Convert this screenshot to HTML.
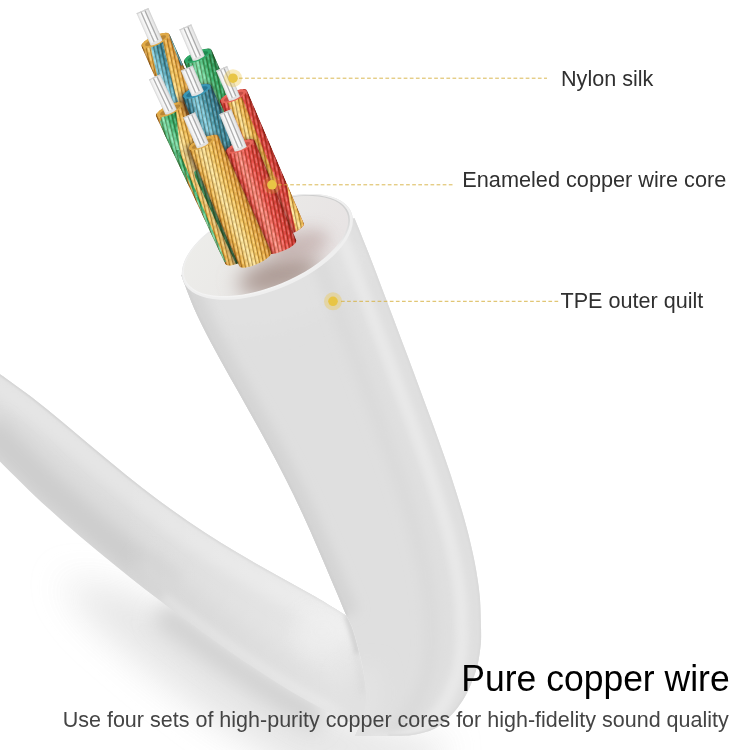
<!DOCTYPE html>
<html lang="en"><head><meta charset="utf-8"><title>Pure copper wire</title>
<style>
html,body{margin:0;padding:0;background:#fff}
body{width:750px;height:750px;overflow:hidden;position:relative;font-family:"Liberation Sans",Arial,sans-serif}
svg{position:absolute;left:0;top:0;display:block}
.lbl{position:absolute;white-space:nowrap;color:#303030;font-size:21.6px;line-height:1;transform:scaleY(1.035);transform-origin:0 84.65%}
</style></head><body>
<svg width="750" height="750" viewBox="0 0 750 750">
<defs>
<filter id="b1" filterUnits="userSpaceOnUse" x="-100" y="-100" width="950" height="950"><feGaussianBlur stdDeviation="1"/></filter>
<filter id="b2" filterUnits="userSpaceOnUse" x="-100" y="-100" width="950" height="950"><feGaussianBlur stdDeviation="2"/></filter>
<filter id="b3" filterUnits="userSpaceOnUse" x="-100" y="-100" width="950" height="950"><feGaussianBlur stdDeviation="3"/></filter>
<filter id="b6" filterUnits="userSpaceOnUse" x="-100" y="-100" width="950" height="950"><feGaussianBlur stdDeviation="6"/></filter>
<filter id="b8" filterUnits="userSpaceOnUse" x="-100" y="-100" width="950" height="950"><feGaussianBlur stdDeviation="8"/></filter>
<filter id="b10" filterUnits="userSpaceOnUse" x="-100" y="-100" width="950" height="950"><feGaussianBlur stdDeviation="10"/></filter>
<filter id="b18" filterUnits="userSpaceOnUse" x="-100" y="-100" width="950" height="950"><feGaussianBlur stdDeviation="18"/></filter>

<clipPath id="lowClip"><path d="M-20.0,360.5 C-16.7,362.8 -8.6,368.1 0.0,374.2 C8.6,380.2 21.0,389.0 31.5,397.0 C42.0,405.1 52.5,413.9 63.0,422.6 C73.5,431.2 84.0,440.3 94.5,449.0 C105.0,457.7 115.5,466.5 126.0,474.9 C136.5,483.3 147.0,491.6 157.5,499.4 C168.0,507.3 178.5,514.8 189.0,522.0 C199.5,529.2 210.0,536.0 220.5,542.5 C231.0,549.1 241.5,555.2 252.0,561.3 C262.5,567.3 273.0,573.0 283.5,578.9 C294.0,584.8 304.5,590.4 315.0,596.6 C325.5,602.7 341.2,612.6 346.5,615.8 C347.6,618.2 350.8,623.6 353.0,630.0 C355.2,636.4 357.7,646.0 359.6,654.0 C361.5,662.0 363.4,670.3 364.5,678.0 C365.6,685.7 366.4,693.0 366.0,700.0 C365.6,707.0 363.8,714.0 362.0,720.0 C360.2,726.0 356.2,733.3 355.0,736.0 L388.0,735.7 C382.6,733.9 366.4,728.9 355.7,724.5 C344.9,720.2 334.1,715.0 323.3,709.5 C312.6,703.9 301.8,697.8 291.0,691.4 C280.2,685.0 269.4,678.1 258.7,671.1 C247.9,664.1 237.1,656.7 226.3,649.2 C215.6,641.7 204.8,633.9 194.0,626.0 C183.2,618.1 172.4,610.0 161.7,601.8 C150.9,593.6 140.1,585.2 129.3,576.7 C118.6,568.1 107.8,559.4 97.0,550.5 C86.2,541.5 75.4,532.4 64.7,522.9 C53.9,513.3 43.1,503.6 32.3,493.4 C21.6,483.1 8.7,470.0 0.0,461.4 C-8.7,452.8 -16.7,445.2 -20.0,442.0 Z"/></clipPath>
<clipPath id="upClip"><path d="M181.2,275.0 C183.4,280.7 189.4,297.7 194.4,309.1 C199.4,320.4 205.3,331.8 211.2,343.1 C217.2,354.5 223.6,365.8 229.9,377.1 C236.3,388.5 242.9,399.8 249.2,411.2 C255.5,422.6 261.9,433.9 268.0,445.2 C274.1,456.6 280.1,467.9 285.8,479.3 C291.5,490.6 297.0,502.0 302.3,513.3 C307.5,524.7 312.6,536.0 317.5,547.4 C322.5,558.8 327.2,570.0 332.0,581.5 C336.9,592.9 344.1,610.1 346.5,615.8 C347.6,618.2 350.8,623.6 353.0,630.0 C355.2,636.4 357.7,646.0 359.6,654.0 C361.5,662.0 363.4,670.3 364.5,678.0 C365.6,685.7 366.4,693.0 366.0,700.0 C365.6,707.0 363.8,714.0 362.0,720.0 C360.2,726.0 356.2,733.3 355.0,736.0 L388.0,735.7 C392.0,735.6 404.3,736.2 412.0,735.0 C419.7,733.8 428.0,732.0 434.4,728.8 C440.8,725.6 445.6,720.8 450.4,716.0 C455.2,711.2 459.6,705.3 463.0,700.0 C466.4,694.7 468.6,689.9 471.0,684.0 C473.4,678.1 476.0,671.5 477.6,664.8 C479.2,658.1 480.2,649.8 480.8,644.0 C481.4,638.2 481.0,632.3 481.1,630.0 C480.8,624.3 480.8,607.1 479.7,595.7 C478.6,584.2 476.7,572.8 474.5,561.3 C472.3,549.9 469.5,538.4 466.5,527.0 C463.5,515.6 460.0,504.1 456.4,492.7 C452.9,481.2 449.0,469.8 445.0,458.3 C441.1,446.9 436.9,435.4 432.8,424.0 C428.6,412.6 424.4,401.1 420.1,389.7 C415.9,378.2 411.6,366.8 407.3,355.3 C403.0,343.9 398.7,332.4 394.4,321.0 C390.1,309.6 385.8,298.1 381.4,286.7 C377.1,275.2 372.7,263.8 368.2,252.3 C363.7,240.9 356.8,223.7 354.5,218.0 L266.6,246.2 Z"/><ellipse cx="267.4" cy="246.9" rx="90.8" ry="43.2" transform="rotate(-22.5 267.4 246.9)"/></clipPath>
<linearGradient id="capG" x1="0" y1="0" x2="1" y2="0.6"><stop offset="0" stop-color="#eeeeeb"/><stop offset="0.5" stop-color="#eae9e7"/><stop offset="1" stop-color="#e8e4e4"/></linearGradient>
<linearGradient id="rimG" x1="0" y1="1" x2="1" y2="0"><stop offset="0" stop-color="#f6f6f6"/><stop offset="0.5" stop-color="#eeeeee"/><stop offset="0.75" stop-color="#d2d2d2"/><stop offset="1" stop-color="#c8c8c8"/></linearGradient>
<linearGradient id="g_gold" x1="0" x2="1" y1="0" y2="0"><stop offset="0" stop-color="#c8862a"/><stop offset="0.12" stop-color="#f2b848"/><stop offset="0.36" stop-color="#ffe89a"/><stop offset="0.62" stop-color="#f8c656"/><stop offset="0.88" stop-color="#eaa43a"/><stop offset="1" stop-color="#c07e26"/></linearGradient>
<linearGradient id="g_blue" x1="0" x2="1" y1="0" y2="0"><stop offset="0" stop-color="#175a70"/><stop offset="0.12" stop-color="#2c8098"/><stop offset="0.36" stop-color="#84d6ea"/><stop offset="0.62" stop-color="#3a94aa"/><stop offset="0.88" stop-color="#2a7a92"/><stop offset="1" stop-color="#144e64"/></linearGradient>
<linearGradient id="g_green" x1="0" x2="1" y1="0" y2="0"><stop offset="0" stop-color="#127a3e"/><stop offset="0.12" stop-color="#26a45c"/><stop offset="0.36" stop-color="#80e8b0"/><stop offset="0.62" stop-color="#30b46a"/><stop offset="0.88" stop-color="#209852"/><stop offset="1" stop-color="#0e6c36"/></linearGradient>
<linearGradient id="g_red" x1="0" x2="1" y1="0" y2="0"><stop offset="0" stop-color="#b82420"/><stop offset="0.12" stop-color="#e83c36"/><stop offset="0.36" stop-color="#ff8a7c"/><stop offset="0.62" stop-color="#f04a44"/><stop offset="0.88" stop-color="#dc3832"/><stop offset="1" stop-color="#aa201c"/></linearGradient>
<linearGradient id="g_white" x1="0" x2="1" y1="0" y2="0"><stop offset="0" stop-color="#d4d4d4"/><stop offset="0.12" stop-color="#eeeeee"/><stop offset="0.36" stop-color="#ffffff"/><stop offset="0.62" stop-color="#f6f6f6"/><stop offset="0.88" stop-color="#e6e6e6"/><stop offset="1" stop-color="#cccccc"/></linearGradient>
<pattern id="strand" width="7.4" height="9" patternUnits="userSpaceOnUse" patternTransform="rotate(12)">
<rect x="0" y="0" width="0.9" height="9" fill="#3a1800" fill-opacity="0.42"/><rect x="0.9" y="0" width="0.7" height="9" fill="#3a1800" fill-opacity="0.12"/>
<rect x="3.7" y="0" width="0.9" height="9" fill="#3a1800" fill-opacity="0.42"/><rect x="4.6" y="0" width="0.7" height="9" fill="#3a1800" fill-opacity="0.12"/>
<rect x="1.9" y="0" width="1.2" height="9" fill="#fff" fill-opacity="0.12"/><rect x="5.6" y="0" width="1.2" height="9" fill="#fff" fill-opacity="0.12"/>
<rect x="1.8" y="0.5" width="1.4" height="5" rx="0.7" fill="#fff" fill-opacity="0.22"/>
<rect x="5.5" y="5" width="1.4" height="4" rx="0.7" fill="#fff" fill-opacity="0.22"/><rect x="5.5" y="0" width="1.4" height="1" fill="#fff" fill-opacity="0.22"/>
<rect x="0.9" y="6" width="2.8" height="2.4" fill="#3a1800" fill-opacity="0.07"/><rect x="4.6" y="1.5" width="2.8" height="2.4" fill="#3a1800" fill-opacity="0.07"/>
</pattern>
<pattern id="corestr" width="4" height="10" patternUnits="userSpaceOnUse"><rect x="0" y="0" width="1" height="10" fill="#000" fill-opacity="0.16"/></pattern>

<linearGradient id="lowLight" gradientUnits="userSpaceOnUse" x1="120" y1="0" x2="340" y2="0"><stop offset="0" stop-color="#fff" stop-opacity="0"/><stop offset="1" stop-color="#fff" stop-opacity="0.32"/></linearGradient>
</defs>
<g filter="url(#b18)" opacity="0.85"><path d="M60,578 L120,590 L180,612 L250,666 L300,694 L350,720 L410,738 L450,742 L430,775 L300,775 L215,722 L150,672 L92,622 Z" fill="#e2e2e2"/></g>
<g filter="url(#b10)"><path d="M159.7,611.8 C165.1,615.9 181.2,628.1 192.0,636.0 C202.8,643.9 213.6,651.7 224.3,659.2 C235.1,666.7 245.9,674.1 256.7,681.1 C267.4,688.1 278.2,695.0 289.0,701.4 C299.8,707.8 315.9,716.4 321.3,719.5" fill="none" stroke="#d0d0d0" stroke-width="26"/></g>
<g clip-path="url(#lowClip)">
<rect x="0" y="340" width="500" height="410" fill="#dcdcdc"/>
<path d="M-14.0,377.5 C-10.7,379.8 -2.6,385.1 6.0,391.2 C14.6,397.2 27.0,406.0 37.5,414.0 C48.0,422.1 58.5,430.9 69.0,439.6 C79.5,448.2 90.0,457.3 100.5,466.0 C111.0,474.7 121.5,483.5 132.0,491.9 C142.5,500.3 153.0,508.6 163.5,516.4 C174.0,524.3 184.5,531.8 195.0,539.0 C205.5,546.2 216.0,553.0 226.5,559.5 C237.0,566.1 247.5,572.2 258.0,578.3 C268.5,584.3 279.0,590.0 289.5,595.9 C300.0,601.8 310.5,607.4 321.0,613.6 C331.5,619.7 347.2,629.6 352.5,632.8" fill="none" stroke="#e5e5e5" stroke-width="24" filter="url(#b6)"/>
<path d="M-12.0,428.0 C-8.7,431.2 -0.7,438.8 8.0,447.4 C16.7,456.0 29.6,469.1 40.3,479.4 C51.1,489.6 61.9,499.3 72.7,508.9 C83.4,518.4 94.2,527.5 105.0,536.5 C115.8,545.4 126.6,554.1 137.3,562.7 C148.1,571.2 164.3,583.6 169.7,587.8" fill="none" stroke="#cdcdcd" stroke-width="30" filter="url(#b8)"/>
<path d="M137.3,562.7 C142.7,566.9 158.9,579.6 169.7,587.8 C180.4,596.0 191.2,604.1 202.0,612.0 C212.8,619.9 223.6,627.7 234.3,635.2 C245.1,642.7 255.9,650.1 266.7,657.1 C277.4,664.1 288.2,671.0 299.0,677.4 C309.8,683.8 320.6,689.9 331.3,695.5 C342.1,701.0 352.9,706.2 363.7,710.5 C374.4,714.9 390.6,719.9 396.0,721.7" fill="none" stroke="#d5d5d5" stroke-width="28" filter="url(#b8)"/>
<path d="M163.7,596.8 C169.1,600.9 185.2,613.1 196.0,621.0 C206.8,628.9 217.6,636.7 228.3,644.2 C239.1,651.7 249.9,659.1 260.7,666.1 C271.4,673.1 282.2,680.0 293.0,686.4 C303.8,692.8 314.6,698.9 325.3,704.5 C336.1,710.0 346.9,715.2 357.7,719.5 C368.4,723.9 384.6,728.9 390.0,730.7" fill="none" stroke="#dedede" stroke-width="9" filter="url(#b3)"/>
<path d="M-20.0,360.5 C-16.7,362.8 -8.6,368.1 0.0,374.2 C8.6,380.2 21.0,389.0 31.5,397.0 C42.0,405.1 52.5,413.9 63.0,422.6 C73.5,431.2 84.0,440.3 94.5,449.0 C105.0,457.7 115.5,466.5 126.0,474.9 C136.5,483.3 147.0,491.6 157.5,499.4 C168.0,507.3 178.5,514.8 189.0,522.0 C199.5,529.2 210.0,536.0 220.5,542.5 C231.0,549.1 241.5,555.2 252.0,561.3 C262.5,567.3 273.0,573.0 283.5,578.9 C294.0,584.8 304.5,590.4 315.0,596.6 C325.5,602.7 341.2,612.6 346.5,615.8" fill="none" stroke="#d0d0d0" stroke-width="2.5" filter="url(#b1)"/>
<rect x="0" y="340" width="500" height="410" fill="url(#lowLight)"/>
<ellipse cx="322" cy="632" rx="30" ry="26" fill="#f0f0f0" opacity="0.7" filter="url(#b10)"/>
<path d="M366,672 C368,695 366,715 358,740" fill="none" stroke="#e1e1e1" stroke-width="46" filter="url(#b10)"/>
<path d="M346.5,615.5 C351,628 355,640 357.5,654" fill="none" stroke="#cfcfcf" stroke-width="5" filter="url(#b2)"/>
<path d="M357.5,654 C360,668 362,680 363,694" fill="none" stroke="#d6d6d6" stroke-width="5" filter="url(#b3)" opacity="0.6"/>
</g>
<g clip-path="url(#upClip)">
<rect x="150" y="180" width="360" height="570" fill="#dfdfdf"/>
<ellipse cx="274.6" cy="288.2" rx="88.0" ry="40" transform="rotate(-22.5 266.6 246.2)" fill="#e1e1e1" filter="url(#b10)"/>
<path d="M338.0,743.7 C342.0,743.6 354.3,744.2 362.0,743.0 C369.7,741.8 378.0,740.0 384.4,736.8 C390.8,733.6 395.6,728.8 400.4,724.0 C405.2,719.2 409.6,713.3 413.0,708.0 C416.4,702.7 418.6,697.9 421.0,692.0 C423.4,686.1 426.0,679.5 427.6,672.8 C429.2,666.1 430.2,657.8 430.8,652.0 C431.4,646.2 431.3,646.1 431.1,638.0 C430.9,629.9 430.8,615.1 429.7,603.7 C428.6,592.2 426.7,580.8 424.5,569.3 C422.3,557.9 419.5,546.4 416.5,535.0 C413.5,523.6 410.0,512.1 406.4,500.7 C402.9,489.2 399.0,477.8 395.0,466.3 C391.1,454.9 386.9,443.4 382.8,432.0 C378.6,420.6 374.4,409.1 370.1,397.7 C365.9,386.2 361.6,374.8 357.3,363.3 C353.0,351.9 348.7,340.4 344.4,329.0 C340.1,317.6 335.8,306.1 331.4,294.7 C327.1,283.2 322.7,271.8 318.2,260.3 C313.7,248.9 306.8,231.7 304.5,226.0" fill="none" stroke="#dadada" stroke-width="14" filter="url(#b6)"/>
<path d="M369.0,739.7 C373.0,739.6 385.3,740.2 393.0,739.0 C400.7,737.8 409.0,736.0 415.4,732.8 C421.8,729.6 426.6,724.8 431.4,720.0 C436.2,715.2 440.6,709.3 444.0,704.0 C447.4,698.7 449.6,693.9 452.0,688.0 C454.4,682.1 457.0,675.5 458.6,668.8 C460.2,662.1 461.2,653.8 461.8,648.0 C462.4,642.2 462.3,642.1 462.1,634.0 C461.9,625.9 461.8,611.1 460.7,599.7 C459.6,588.2 457.7,576.8 455.5,565.3 C453.3,553.9 450.5,542.4 447.5,531.0 C444.5,519.6 441.0,508.1 437.4,496.7 C433.9,485.2 430.0,473.8 426.0,462.3 C422.1,450.9 417.9,439.4 413.8,428.0 C409.6,416.6 405.4,405.1 401.1,393.7 C396.9,382.2 392.6,370.8 388.3,359.3 C384.0,347.9 379.7,336.4 375.4,325.0 C371.1,313.6 366.8,302.1 362.4,290.7 C358.1,279.2 353.7,267.8 349.2,256.3 C344.7,244.9 337.8,227.7 335.5,222.0" fill="none" stroke="#e8e8e8" stroke-width="13" filter="url(#b3)"/>
<path d="M388.0,735.7 C392.0,735.6 404.3,736.2 412.0,735.0 C419.7,733.8 428.0,732.0 434.4,728.8 C440.8,725.6 445.6,720.8 450.4,716.0 C455.2,711.2 459.6,705.3 463.0,700.0 C466.4,694.7 468.6,689.9 471.0,684.0 C473.4,678.1 476.0,671.5 477.6,664.8 C479.2,658.1 480.2,649.8 480.8,644.0 C481.4,638.2 481.3,638.1 481.1,630.0 C480.9,621.9 480.8,607.1 479.7,595.7 C478.6,584.2 476.7,572.8 474.5,561.3 C472.3,549.9 469.5,538.4 466.5,527.0 C463.5,515.6 460.0,504.1 456.4,492.7 C452.9,481.2 449.0,469.8 445.0,458.3 C441.1,446.9 436.9,435.4 432.8,424.0 C428.6,412.6 424.4,401.1 420.1,389.7 C415.9,378.2 411.6,366.8 407.3,355.3 C403.0,343.9 398.7,332.4 394.4,321.0 C390.1,309.6 385.8,298.1 381.4,286.7 C377.1,275.2 372.7,263.8 368.2,252.3 C363.7,240.9 356.8,223.7 354.5,218.0" fill="none" stroke="#d9d9d9" stroke-width="3" filter="url(#b1)"/>
<path d="M181.2,275.0 C183.4,280.7 189.4,297.7 194.4,309.1 C199.4,320.4 205.3,331.8 211.2,343.1 C217.2,354.5 223.6,365.8 229.9,377.1 C236.3,388.5 242.9,399.8 249.2,411.2 C255.5,422.6 261.9,433.9 268.0,445.2 C274.1,456.6 280.1,467.9 285.8,479.3 C291.5,490.6 297.0,502.0 302.3,513.3 C307.5,524.7 312.6,536.0 317.5,547.4 C322.5,558.8 327.2,570.0 332.0,581.5 C336.9,592.9 344.1,610.1 346.5,615.8" fill="none" stroke="#d4d4d4" stroke-width="26" filter="url(#b6)"/>
<path d="M364,668 C368,695 366,715 358,740" fill="none" stroke="#e3e3e3" stroke-width="30" filter="url(#b10)"/>
<path d="M181.2,275.0 C183.4,280.7 189.4,297.7 194.4,309.1 C199.4,320.4 205.3,331.8 211.2,343.1 C217.2,354.5 223.6,365.8 229.9,377.1 C236.3,388.5 242.9,399.8 249.2,411.2 C255.5,422.6 261.9,433.9 268.0,445.2 C274.1,456.6 280.1,467.9 285.8,479.3 C291.5,490.6 297.0,502.0 302.3,513.3 C307.5,524.7 312.6,536.0 317.5,547.4 C322.5,558.8 327.2,570.0 332.0,581.5 C336.9,592.9 344.1,610.1 346.5,615.8" fill="none" stroke="#d0d0d0" stroke-width="4" filter="url(#b1)"/>
</g>
<ellipse cx="267.4" cy="246.9" rx="90.8" ry="43.2" transform="rotate(-22.5 267.4 246.9)" fill="#efefef"/>
<ellipse cx="266.6" cy="246.2" rx="88.6" ry="41.6" transform="rotate(-22.5 266.6 246.2)" fill="url(#rimG)"/>
<ellipse cx="266.20000000000005" cy="245.79999999999998" rx="87.4" ry="40.4" transform="rotate(-22.5 266.6 246.2)" fill="url(#capG)"/>
<clipPath id="capClip"><ellipse cx="266.20000000000005" cy="245.79999999999998" rx="87.4" ry="40.4" transform="rotate(-22.5 266.6 246.2)"/></clipPath>
<g clip-path="url(#capClip)">
<ellipse cx="279" cy="275" rx="42" ry="18" transform="rotate(-16 279 275)" fill="#ae9c96" filter="url(#b10)" opacity="1"/>
<ellipse cx="300" cy="245" rx="30" ry="14" transform="rotate(-16 300 245)" fill="#c0aaa8" filter="url(#b8)" opacity="0.7"/>
</g>
<g transform="translate(155.5,40.4) rotate(-23.75)">
<rect x="-6.50" y="-32.5" width="13" height="34.5" fill="url(#g_white)"/>
<rect x="-2.42" y="-32.5" width="1.3" height="34.5" fill="#7a7a7a" fill-opacity="0.6"/>
<rect x="1.74" y="-32.5" width="1.3" height="34.5" fill="#7a7a7a" fill-opacity="0.6"/>
<rect x="-6.50" y="-32.5" width="13" height="1.2" fill="#d0d0d0"/>
<clipPath id="wc1"><path d="M-15.25,0 L-15.5,126.1 A15.5,5.0 0 0 0 15.5,126.1 L15.25,0 A15.25,4.9 0 0 0 -15.25,0 Z"/></clipPath>
<g clip-path="url(#wc1)">
<rect x="-15.5" y="-8" width="31.0" height="143.1" fill="url(#g_gold)"/>
<polygon points="-5.6,0.7 7.2,-0.2 3.8,15.8 0.0,36.0 -3.2,56.4 -4.4,69.0 -6.0,84.3 -17.0,79.5 -11.7,52.6 -12.2,30.6 -8.4,10.4" fill="url(#g_blue)"/>
<polygon points="14.6,1.6 16.4,1.3 16.6,33.1 13.0,33.7" fill="url(#g_blue)"/>
<rect x="-35.5" y="-20" width="71.0" height="171.1" fill="url(#strand)"/>
<path d="M-15.25,0 L-15.5,131.1" stroke="#3a1a00" stroke-opacity="0.22" stroke-width="2" fill="none"/>
<path d="M15.25,0 L15.5,131.1" stroke="#3a1a00" stroke-opacity="0.15" stroke-width="1.4" fill="none"/>
</g>
<ellipse cx="0" cy="0" rx="14.45" ry="4.9" fill="#e0aa48"/>
<ellipse cx="0" cy="0.3" rx="11.45" ry="2.9" fill="#a8762e" fill-opacity="0.7"/>
<rect x="-6.50" y="-7.0" width="13" height="9.2" fill="url(#g_white)"/>
<rect x="-2.42" y="-7.0" width="1.3" height="9.2" fill="#7a7a7a" fill-opacity="0.6"/>
<rect x="1.74" y="-7.0" width="1.3" height="9.2" fill="#7a7a7a" fill-opacity="0.6"/>
<ellipse cx="0" cy="2.2" rx="6.5" ry="1.5" fill="#e2e2e2"/>
</g>
<clipPath id="prev2"><path d="M-15.25,0 L-15.5,126.1 A15.5,5.0 0 0 0 15.5,126.1 L15.25,0 A15.25,4.9 0 0 0 -15.25,0 Z" transform="translate(155.5,40.4) rotate(-23.75)"/></clipPath>
<g clip-path="url(#prev2)"><g transform="translate(197.8,56) rotate(-23.27)"><path d="M-15.0,0 L-15.5,114.8 A15.5,5.0 0 0 0 15.5,114.8 L15.0,0 A15.0,4.8 0 0 0 -15.0,0 Z" transform="translate(-1.5,1)" fill="#2a1608" stroke="#2a1608" stroke-width="3" opacity="0.62" filter="url(#b2)"/></g></g>
<g transform="translate(197.8,56) rotate(-23.27)">
<rect x="-6.50" y="-31.7" width="13" height="33.7" fill="url(#g_white)"/>
<rect x="-2.42" y="-31.7" width="1.3" height="33.7" fill="#7a7a7a" fill-opacity="0.6"/>
<rect x="1.74" y="-31.7" width="1.3" height="33.7" fill="#7a7a7a" fill-opacity="0.6"/>
<rect x="-6.50" y="-31.7" width="13" height="1.2" fill="#d0d0d0"/>
<clipPath id="wc2"><path d="M-15.0,0 L-15.5,114.8 A15.5,5.0 0 0 0 15.5,114.8 L15.0,0 A15.0,4.8 0 0 0 -15.0,0 Z"/></clipPath>
<g clip-path="url(#wc2)">
<rect x="-15.5" y="-8" width="31.0" height="131.7" fill="url(#g_green)"/>
<rect x="-35.5" y="-20" width="71.0" height="159.7" fill="url(#strand)"/>
<path d="M-15.0,0 L-15.5,119.7" stroke="#3a1a00" stroke-opacity="0.22" stroke-width="2" fill="none"/>
<path d="M15.0,0 L15.5,119.7" stroke="#3a1a00" stroke-opacity="0.15" stroke-width="1.4" fill="none"/>
</g>
<ellipse cx="0" cy="0" rx="14.05" ry="4.8" fill="#30a868"/>
<ellipse cx="0" cy="0.3" rx="11.05" ry="2.8" fill="#187a44" fill-opacity="0.7"/>
<rect x="-6.50" y="-7.0" width="13" height="9.1" fill="url(#g_white)"/>
<rect x="-2.42" y="-7.0" width="1.3" height="9.1" fill="#7a7a7a" fill-opacity="0.6"/>
<rect x="1.74" y="-7.0" width="1.3" height="9.1" fill="#7a7a7a" fill-opacity="0.6"/>
<ellipse cx="0" cy="2.1" rx="6.5" ry="1.4" fill="#e2e2e2"/>
</g>
<g transform="translate(233.5,96.3) rotate(-23.09)">
<rect x="-6.00" y="-30.3" width="12" height="32.3" fill="url(#g_white)"/>
<rect x="-2.28" y="-30.3" width="1.3" height="32.3" fill="#7a7a7a" fill-opacity="0.6"/>
<rect x="1.56" y="-30.3" width="1.3" height="32.3" fill="#7a7a7a" fill-opacity="0.6"/>
<rect x="-6.00" y="-30.3" width="12" height="1.2" fill="#d0d0d0"/>
<clipPath id="wc3"><path d="M-14.75,0 L-15.0,144.4 A15.0,4.8 0 0 0 15.0,144.4 L14.75,0 A14.75,4.6 0 0 0 -14.75,0 Z"/></clipPath>
<g clip-path="url(#wc3)">
<rect x="-15.0" y="-8" width="30.0" height="161.2" fill="url(#g_red)"/>
<polygon points="-8.0,-0.5 7.3,-0.5 6.3,93.7 -5.8,101.6 -5.8,86.3" fill="url(#g_gold)"/>
<polygon points="17.7,89.8 18.1,111.8 13.7,157.7 3.6,153.4 9.3,122.2" fill="url(#g_gold)"/>
<rect x="-35.0" y="-20" width="70.0" height="189.2" fill="url(#strand)"/>
<path d="M-14.75,0 L-15.0,149.2" stroke="#3a1a00" stroke-opacity="0.22" stroke-width="2" fill="none"/>
<path d="M14.75,0 L15.0,149.2" stroke="#3a1a00" stroke-opacity="0.15" stroke-width="1.4" fill="none"/>
</g>
<ellipse cx="0" cy="0" rx="13.6" ry="4.6" fill="#e8665a"/>
<ellipse cx="0" cy="0.3" rx="10.6" ry="2.6" fill="#b8433a" fill-opacity="0.7"/>
<rect x="-6.00" y="-7.0" width="12" height="9.1" fill="url(#g_white)"/>
<rect x="-2.28" y="-7.0" width="1.3" height="9.1" fill="#7a7a7a" fill-opacity="0.6"/>
<rect x="1.56" y="-7.0" width="1.3" height="9.1" fill="#7a7a7a" fill-opacity="0.6"/>
<ellipse cx="0" cy="2.1" rx="6.0" ry="1.4" fill="#e2e2e2"/>
</g>
<clipPath id="prev4"><path d="M-15.25,0 L-15.5,126.1 A15.5,5.0 0 0 0 15.5,126.1 L15.25,0 A15.25,4.9 0 0 0 -15.25,0 Z" transform="translate(155.5,40.4) rotate(-23.75)"/><path d="M-15.0,0 L-15.5,114.8 A15.5,5.0 0 0 0 15.5,114.8 L15.0,0 A15.0,4.8 0 0 0 -15.0,0 Z" transform="translate(197.8,56) rotate(-23.27)"/><path d="M-14.75,0 L-15.0,144.4 A15.0,4.8 0 0 0 15.0,144.4 L14.75,0 A14.75,4.6 0 0 0 -14.75,0 Z" transform="translate(233.5,96.3) rotate(-23.09)"/></clipPath>
<g clip-path="url(#prev4)"><g transform="translate(170,109.7) rotate(-25.15)"><path d="M-15.5,0 L-15.5,163.3 A15.5,5.0 0 0 0 15.5,163.3 L15.5,0 A15.5,4.8 0 0 0 -15.5,0 Z" transform="translate(-1.5,1)" fill="#2a1608" stroke="#2a1608" stroke-width="3" opacity="0.62" filter="url(#b2)"/></g></g>
<g transform="translate(170,109.7) rotate(-25.15)">
<rect x="-6.25" y="-36.3" width="12.5" height="38.3" fill="url(#g_white)"/>
<rect x="-2.35" y="-36.3" width="1.3" height="38.3" fill="#7a7a7a" fill-opacity="0.6"/>
<rect x="1.65" y="-36.3" width="1.3" height="38.3" fill="#7a7a7a" fill-opacity="0.6"/>
<rect x="-6.25" y="-36.3" width="12.5" height="1.2" fill="#d0d0d0"/>
<clipPath id="wc4"><path d="M-15.5,0 L-15.5,163.3 A15.5,5.0 0 0 0 15.5,163.3 L15.5,0 A15.5,4.8 0 0 0 -15.5,0 Z"/></clipPath>
<g clip-path="url(#wc4)">
<rect x="-15.5" y="-8" width="31.0" height="180.2" fill="url(#g_gold)"/>
<polygon points="-14.3,6.9 -7.3,0.2 5.3,2.8 -7.6,38.7 -15.3,74.9 -19.2,91.8 -18.8,75.4 -18.0,36.1" fill="url(#g_green)"/>
<polygon points="-4.8,66.6 1.5,65.1 7.1,76.6 7.7,171.9 -5.8,167.7 -5.9,72.7" fill="url(#g_green)"/>
<polygon points="-11.7,39.0 -9.3,40.1 -14.0,161.7 -17.7,160.0" fill="url(#g_green)"/>
<rect x="-35.5" y="-20" width="71.0" height="208.2" fill="url(#strand)"/>
<path d="M-15.5,0 L-15.5,168.2" stroke="#3a1a00" stroke-opacity="0.22" stroke-width="2" fill="none"/>
<path d="M15.5,0 L15.5,168.2" stroke="#3a1a00" stroke-opacity="0.15" stroke-width="1.4" fill="none"/>
</g>
<ellipse cx="0" cy="0" rx="14.05" ry="4.8" fill="#e0aa48"/>
<ellipse cx="0" cy="0.3" rx="11.05" ry="2.8" fill="#a8762e" fill-opacity="0.7"/>
<rect x="-6.25" y="-7.0" width="12.5" height="9.1" fill="url(#g_white)"/>
<rect x="-2.35" y="-7.0" width="1.3" height="9.1" fill="#7a7a7a" fill-opacity="0.6"/>
<rect x="1.65" y="-7.0" width="1.3" height="9.1" fill="#7a7a7a" fill-opacity="0.6"/>
<ellipse cx="0" cy="2.1" rx="6.25" ry="1.4" fill="#e2e2e2"/>
</g>
<clipPath id="prev5"><path d="M-15.25,0 L-15.5,126.1 A15.5,5.0 0 0 0 15.5,126.1 L15.25,0 A15.25,4.9 0 0 0 -15.25,0 Z" transform="translate(155.5,40.4) rotate(-23.75)"/><path d="M-15.0,0 L-15.5,114.8 A15.5,5.0 0 0 0 15.5,114.8 L15.0,0 A15.0,4.8 0 0 0 -15.0,0 Z" transform="translate(197.8,56) rotate(-23.27)"/><path d="M-14.75,0 L-15.0,144.4 A15.0,4.8 0 0 0 15.0,144.4 L14.75,0 A14.75,4.6 0 0 0 -14.75,0 Z" transform="translate(233.5,96.3) rotate(-23.09)"/><path d="M-15.5,0 L-15.5,163.3 A15.5,5.0 0 0 0 15.5,163.3 L15.5,0 A15.5,4.8 0 0 0 -15.5,0 Z" transform="translate(170,109.7) rotate(-25.15)"/></clipPath>
<g clip-path="url(#prev5)"><g transform="translate(196.8,91.3) rotate(-23.27)"><path d="M-15.5,0 L-16.0,103.7 A16.0,5.1 0 0 0 16.0,103.7 L15.5,0 A15.5,5.0 0 0 0 -15.5,0 Z" transform="translate(-1.5,1)" fill="#2a1608" stroke="#2a1608" stroke-width="3" opacity="0.62" filter="url(#b2)"/></g></g>
<g transform="translate(196.8,91.3) rotate(-23.27)">
<rect x="-6.50" y="-25.3" width="13" height="27.3" fill="url(#g_white)"/>
<rect x="-2.42" y="-25.3" width="1.3" height="27.3" fill="#7a7a7a" fill-opacity="0.6"/>
<rect x="1.74" y="-25.3" width="1.3" height="27.3" fill="#7a7a7a" fill-opacity="0.6"/>
<rect x="-6.50" y="-25.3" width="13" height="1.2" fill="#d0d0d0"/>
<clipPath id="wc5"><path d="M-15.5,0 L-16.0,103.7 A16.0,5.1 0 0 0 16.0,103.7 L15.5,0 A15.5,5.0 0 0 0 -15.5,0 Z"/></clipPath>
<g clip-path="url(#wc5)">
<rect x="-16.0" y="-8" width="32.0" height="120.9" fill="url(#g_blue)"/>
<rect x="-36.0" y="-20" width="72.0" height="148.9" fill="url(#strand)"/>
<path d="M-15.5,0 L-16.0,108.9" stroke="#3a1a00" stroke-opacity="0.22" stroke-width="2" fill="none"/>
<path d="M15.5,0 L16.0,108.9" stroke="#3a1a00" stroke-opacity="0.15" stroke-width="1.4" fill="none"/>
</g>
<ellipse cx="0" cy="0" rx="14.65" ry="5.0" fill="#3a98b6"/>
<ellipse cx="0" cy="0.3" rx="11.65" ry="3.0" fill="#1f6a86" fill-opacity="0.7"/>
<rect x="-6.50" y="-7.0" width="13" height="9.2" fill="url(#g_white)"/>
<rect x="-2.42" y="-7.0" width="1.3" height="9.2" fill="#7a7a7a" fill-opacity="0.6"/>
<rect x="1.74" y="-7.0" width="1.3" height="9.2" fill="#7a7a7a" fill-opacity="0.6"/>
<ellipse cx="0" cy="2.2" rx="6.5" ry="1.5" fill="#e2e2e2"/>
</g>
<clipPath id="prev7"><path d="M-15.25,0 L-15.5,126.1 A15.5,5.0 0 0 0 15.5,126.1 L15.25,0 A15.25,4.9 0 0 0 -15.25,0 Z" transform="translate(155.5,40.4) rotate(-23.75)"/><path d="M-15.0,0 L-15.5,114.8 A15.5,5.0 0 0 0 15.5,114.8 L15.0,0 A15.0,4.8 0 0 0 -15.0,0 Z" transform="translate(197.8,56) rotate(-23.27)"/><path d="M-14.75,0 L-15.0,144.4 A15.0,4.8 0 0 0 15.0,144.4 L14.75,0 A14.75,4.6 0 0 0 -14.75,0 Z" transform="translate(233.5,96.3) rotate(-23.09)"/><path d="M-15.5,0 L-15.5,163.3 A15.5,5.0 0 0 0 15.5,163.3 L15.5,0 A15.5,4.8 0 0 0 -15.5,0 Z" transform="translate(170,109.7) rotate(-25.15)"/><path d="M-15.5,0 L-16.0,103.7 A16.0,5.1 0 0 0 16.0,103.7 L15.5,0 A15.5,5.0 0 0 0 -15.5,0 Z" transform="translate(196.8,91.3) rotate(-23.27)"/></clipPath>
<g clip-path="url(#prev7)"><g transform="translate(239.8,146.7) rotate(-22.59)"><path d="M-16.0,0 L-16.25,107.8 A16.25,5.2 0 0 0 16.25,107.8 L16.0,0 A16.0,4.7 0 0 0 -16.0,0 Z" transform="translate(-1.5,1)" fill="#2a1608" stroke="#2a1608" stroke-width="3" opacity="0.62" filter="url(#b2)"/></g></g>
<g transform="translate(239.8,146.7) rotate(-22.59)">
<rect x="-6.50" y="-37.8" width="13" height="39.8" fill="url(#g_white)"/>
<rect x="-2.42" y="-37.8" width="1.3" height="39.8" fill="#7a7a7a" fill-opacity="0.6"/>
<rect x="1.74" y="-37.8" width="1.3" height="39.8" fill="#7a7a7a" fill-opacity="0.6"/>
<rect x="-6.50" y="-37.8" width="13" height="1.2" fill="#d0d0d0"/>
<clipPath id="wc7"><path d="M-16.0,0 L-16.25,107.8 A16.25,5.2 0 0 0 16.25,107.8 L16.0,0 A16.0,4.7 0 0 0 -16.0,0 Z"/></clipPath>
<g clip-path="url(#wc7)">
<rect x="-16.25" y="-8" width="32.5" height="125.0" fill="url(#g_red)"/>
<rect x="-36.25" y="-20" width="72.5" height="153.0" fill="url(#strand)"/>
<path d="M-16.0,0 L-16.25,113.0" stroke="#3a1a00" stroke-opacity="0.22" stroke-width="2" fill="none"/>
<path d="M16.0,0 L16.25,113.0" stroke="#3a1a00" stroke-opacity="0.15" stroke-width="1.4" fill="none"/>
</g>
<ellipse cx="0" cy="0" rx="13.9" ry="4.7" fill="#e8665a"/>
<ellipse cx="0" cy="0.3" rx="10.9" ry="2.7" fill="#b8433a" fill-opacity="0.7"/>
<rect x="-6.50" y="-7.0" width="13" height="9.1" fill="url(#g_white)"/>
<rect x="-2.42" y="-7.0" width="1.3" height="9.1" fill="#7a7a7a" fill-opacity="0.6"/>
<rect x="1.74" y="-7.0" width="1.3" height="9.1" fill="#7a7a7a" fill-opacity="0.6"/>
<ellipse cx="0" cy="2.1" rx="6.5" ry="1.4" fill="#e2e2e2"/>
</g>
<clipPath id="prev6"><path d="M-15.25,0 L-15.5,126.1 A15.5,5.0 0 0 0 15.5,126.1 L15.25,0 A15.25,4.9 0 0 0 -15.25,0 Z" transform="translate(155.5,40.4) rotate(-23.75)"/><path d="M-15.0,0 L-15.5,114.8 A15.5,5.0 0 0 0 15.5,114.8 L15.0,0 A15.0,4.8 0 0 0 -15.0,0 Z" transform="translate(197.8,56) rotate(-23.27)"/><path d="M-14.75,0 L-15.0,144.4 A15.0,4.8 0 0 0 15.0,144.4 L14.75,0 A14.75,4.6 0 0 0 -14.75,0 Z" transform="translate(233.5,96.3) rotate(-23.09)"/><path d="M-15.5,0 L-15.5,163.3 A15.5,5.0 0 0 0 15.5,163.3 L15.5,0 A15.5,4.8 0 0 0 -15.5,0 Z" transform="translate(170,109.7) rotate(-25.15)"/><path d="M-15.5,0 L-16.0,103.7 A16.0,5.1 0 0 0 16.0,103.7 L15.5,0 A15.5,5.0 0 0 0 -15.5,0 Z" transform="translate(196.8,91.3) rotate(-23.27)"/><path d="M-16.0,0 L-16.25,107.8 A16.25,5.2 0 0 0 16.25,107.8 L16.0,0 A16.0,4.7 0 0 0 -16.0,0 Z" transform="translate(239.8,146.7) rotate(-22.59)"/></clipPath>
<g clip-path="url(#prev6)"><g transform="translate(203.6,142.5) rotate(-23.88)"><path d="M-16.0,0 L-17.5,127.3 A17.5,5.6 0 0 0 17.5,127.3 L16.0,0 A16.0,4.7 0 0 0 -16.0,0 Z" transform="translate(-1.5,1)" fill="#2a1608" stroke="#2a1608" stroke-width="3" opacity="0.62" filter="url(#b2)"/></g></g>
<g transform="translate(203.6,142.5) rotate(-23.88)">
<rect x="-8.50" y="-31.2" width="13" height="33.2" fill="url(#g_white)"/>
<rect x="-4.42" y="-31.2" width="1.3" height="33.2" fill="#7a7a7a" fill-opacity="0.6"/>
<rect x="-0.26" y="-31.2" width="1.3" height="33.2" fill="#7a7a7a" fill-opacity="0.6"/>
<rect x="-8.50" y="-31.2" width="13" height="1.2" fill="#d0d0d0"/>
<clipPath id="wc6"><path d="M-16.0,0 L-17.5,127.3 A17.5,5.6 0 0 0 17.5,127.3 L16.0,0 A16.0,4.7 0 0 0 -16.0,0 Z"/></clipPath>
<g clip-path="url(#wc6)">
<rect x="-17.5" y="-8" width="35.0" height="144.9" fill="url(#g_gold)"/>
<rect x="-37.5" y="-20" width="75.0" height="172.9" fill="url(#strand)"/>
<path d="M-16.0,0 L-17.5,132.9" stroke="#3a1a00" stroke-opacity="0.22" stroke-width="2" fill="none"/>
<path d="M16.0,0 L17.5,132.9" stroke="#3a1a00" stroke-opacity="0.15" stroke-width="1.4" fill="none"/>
</g>
<ellipse cx="-2" cy="0" rx="13.9" ry="4.7" fill="#e0aa48"/>
<ellipse cx="-2" cy="0.3" rx="10.9" ry="2.7" fill="#a8762e" fill-opacity="0.7"/>
<rect x="-8.50" y="-7.0" width="13" height="9.1" fill="url(#g_white)"/>
<rect x="-4.42" y="-7.0" width="1.3" height="9.1" fill="#7a7a7a" fill-opacity="0.6"/>
<rect x="-0.26" y="-7.0" width="1.3" height="9.1" fill="#7a7a7a" fill-opacity="0.6"/>
<ellipse cx="-2" cy="2.1" rx="6.5" ry="1.4" fill="#e2e2e2"/>
</g>
<circle cx="233" cy="78.2" r="9" fill="#ecc94c" fill-opacity="0.38"/><circle cx="233" cy="78.2" r="4.8" fill="#e8c545"/><line x1="239" y1="78.2" x2="547" y2="78.2" stroke="#d6b040" stroke-width="0.9" stroke-dasharray="3.7 2.4"/>
<circle cx="272" cy="184.8" r="9" fill="#ecc94c" fill-opacity="0.22"/><circle cx="272" cy="184.8" r="4.8" fill="#e8c545"/><line x1="278" y1="184.8" x2="453.5" y2="184.8" stroke="#d6b040" stroke-width="0.9" stroke-dasharray="3.7 2.4"/>
<circle cx="333" cy="301.3" r="9" fill="#ecc94c" fill-opacity="0.38"/><circle cx="333" cy="301.3" r="4.8" fill="#e8c545"/><line x1="341" y1="301.3" x2="558.5" y2="301.3" stroke="#d6b040" stroke-width="0.9" stroke-dasharray="3.7 2.4"/>
</svg>
<div class="lbl" style="left:561px;top:68.1px">Nylon silk</div>
<div class="lbl" style="left:462.3px;top:169.3px;font-size:21.7px">Enameled copper wire core</div>
<div class="lbl" style="left:560.5px;top:290.4px">TPE outer quilt</div>
<div class="lbl" style="left:461.3px;top:662px;font-size:35.5px;color:#000;transform:scaleY(1.05)">Pure copper wire</div>
<div class="lbl" style="left:62.7px;top:710px;color:#444;font-size:21.52px">Use four sets of high-purity copper cores for high-fidelity sound quality</div>
</body></html>
